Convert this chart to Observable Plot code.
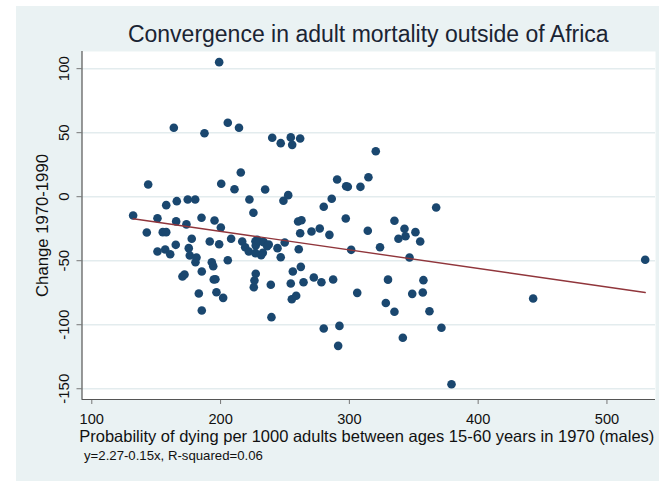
<!DOCTYPE html>
<html>
<head>
<meta charset="utf-8">
<script src="https://cdn.jsdelivr.net/npm/d3@7"></script>
<script src="https://cdn.jsdelivr.net/npm/@observablehq/plot@0.6"></script>
<style>
  html, body { margin: 0; padding: 0; background: #fff; }
  body { width: 659px; height: 481px; overflow: hidden; position: relative; font-family: "Liberation Sans", Arial, sans-serif; }
  #bg { position: absolute; left: 16px; top: 6px; width: 643px; height: 475px; background: #eaf2f3; }
  #title { position: absolute; left: 81.5px; width: 573.5px; top: 23px; font-size: 23px; line-height: 1; text-align: center; color: #1a2433; white-space: nowrap; }
  #chart { position: absolute; left: 16px; top: 40px; }
  #caption { position: absolute; left: 84px; top: 449px; font-size: 13.2px; line-height: 1; color: #111; white-space: nowrap; }
</style>
</head>
<body>
<div id="bg"></div>
<div id="title"></div>
<div id="chart"></div>
<div id="caption"></div>
<script>
const titleText = "Convergence in adult mortality outside of Africa";
const xLabel = "Probability of dying per 1000 adults between ages 15-60 years in 1970 (males)";
const yLabel = "Change 1970-1990";
const captionText = "y=2.27-0.15x, R-squared=0.06";

const xTicks = [100, 200, 300, 400, 500];
const yTicks = [-150, -100, -50, 0, 50, 100];
const xDomain = [92.4, 537.7];
const yDomain = [-158.4, 113.4];

// adult mortality 1970 (x) and change 1970-1990 (y)
const mort1970 = [
  198.9, 163.7, 205.6, 214.3, 187.5, 143.8, 200.5, 215.7, 210.8, 157.8,
  166.0, 174.5, 180.3, 132.1, 151.0, 165.5, 173.5, 185.2, 195.3, 200.2,
  142.7, 155.1, 157.8, 177.6, 191.6, 198.9, 208.2, 151.0, 157.0, 160.9,
  165.2, 175.3, 176.1, 181.3, 180.5, 193.2, 194.3, 205.6, 185.4, 170.4,
  172.0, 194.7, 196.0, 183.1, 196.8, 202.0, 185.4, 240.1, 246.7, 254.5,
  255.6, 261.8, 320.5, 222.4, 234.6, 225.5, 248.8, 252.5, 260.2, 262.8,
  280.1, 286.3, 290.5, 297.5, 298.8, 308.6, 314.8, 297.2, 216.8, 219.1,
  221.9, 227.1, 228.4, 227.3, 230.0, 233.5, 236.2, 237.4, 232.8, 231.5,
  227.1, 244.2, 246.7, 249.8, 260.7, 261.8, 270.6, 277.0, 284.5, 314.3,
  301.4, 323.8, 227.3, 226.3, 225.8, 239.0, 256.1, 262.3, 254.5, 264.4,
  272.4, 278.3, 287.4, 255.3, 258.7, 239.5, 306.1, 330.0, 328.3, 280.1,
  292.3, 291.3, 367.4, 335.0, 342.8, 338.1, 343.6, 351.3, 355.0, 346.7,
  357.5, 348.8, 357.0, 335.0, 362.2, 371.5, 341.5, 379.3, 442.7, 529.7
];
const change7090 = [
  105.1, 53.8, 57.7, 53.8, 49.6, 9.5, 10.1, 18.9, 5.8, -6.6,
  -3.5, -2.2, -2.2, -14.7, -16.8, -19.3, -21.6, -16.5, -18.6, -24.1,
  -28.0, -27.7, -27.7, -32.9, -35.0, -37.1, -32.9, -42.8, -41.3, -44.9,
  -37.6, -40.2, -45.9, -47.5, -51.2, -51.2, -54.3, -49.6, -58.4, -62.3,
  -60.8, -64.7, -64.5, -75.6, -74.6, -79.0, -88.9, 46.0, 41.8, 46.3,
  40.5, 45.5, 35.5, -2.2, 5.6, -12.6, -3.2, 1.2, -19.4, -18.4,
  -7.9, -1.6, 13.4, 8.2, 7.7, 7.7, 15.2, -17.0, -35.0, -39.5,
  -42.8, -34.8, -33.7, -38.1, -34.8, -35.5, -38.7, -37.3, -43.8, -45.7,
  -44.1, -40.2, -47.3, -35.8, -41.0, -28.5, -27.2, -24.8, -29.8, -26.6,
  -41.5, -39.5, -60.2, -65.5, -70.7, -68.8, -58.4, -54.8, -67.8, -66.8,
  -63.1, -66.8, -64.7, -80.1, -77.4, -94.1, -75.1, -64.8, -83.0, -103.0,
  -100.9, -116.5, -8.4, -18.8, -25.1, -32.9, -30.9, -27.7, -35.0, -47.5,
  -65.2, -75.9, -74.8, -89.9, -89.5, -102.4, -110.2, -146.5, -79.5, -49.3
];

const data = mort1970.map((x, i) => ({x, y: change7090[i]}));

document.getElementById("title").textContent = titleText;
document.getElementById("caption").textContent = captionText;

const font = "Liberation Sans, Arial, sans-serif";

const chart = Plot.plot({
  width: 643,
  height: 405,
  marginLeft: 65.5,
  marginRight: 4,
  marginTop: 11,
  marginBottom: 46,
  style: { background: "transparent", fontFamily: font, overflow: "visible" },
  x: { domain: xDomain, label: null },
  y: { domain: yDomain, label: null },
  marks: [
    Plot.frame({ fill: "white", stroke: "none" }),
    Plot.gridY(yTicks, { stroke: "#e3ecee", strokeOpacity: 1, strokeWidth: 1.5 }),
    Plot.axisX({ ticks: xTicks, tickSize: 5, tickPadding: 9, fontSize: 14.6, tickFormat: d => String(d), stroke: "#777", fill: "#111", label: null }),
    Plot.axisY({ ticks: yTicks, tickSize: 5, tickFormat: () => "", stroke: "#777", label: null }),
    Plot.ruleX([xDomain[0]], { stroke: "#555", strokeWidth: 1.2 }),
    Plot.ruleY([yDomain[0]], { stroke: "#555", strokeWidth: 1.2 }),
    Plot.text(yTicks, { y: d => d, text: d => String(d), frameAnchor: "left", textAnchor: "middle", rotate: -90, dx: -18.3, fontSize: 15, lineAnchor: "middle", fill: "#111" }),
    Plot.text([yLabel], { frameAnchor: "left", textAnchor: "middle", rotate: -90, dx: -39.3, fontSize: 16.7, lineAnchor: "middle", fill: "#111" }),
    Plot.text([xLabel], { frameAnchor: "bottom", textAnchor: "middle", dx: -2, dy: 31, fontSize: 16.5, lineAnchor: "top", fill: "#111" }),
    Plot.dot(data, { x: "x", y: "y", r: 4.3, fill: "#1a476f", stroke: "none" }),
    Plot.linearRegressionY(data, { x: "x", y: "y", stroke: "#90353b", strokeWidth: 1.4, ci: 0 })
  ]
});
document.getElementById("chart").appendChild(chart);
</script>
</body>
</html>
